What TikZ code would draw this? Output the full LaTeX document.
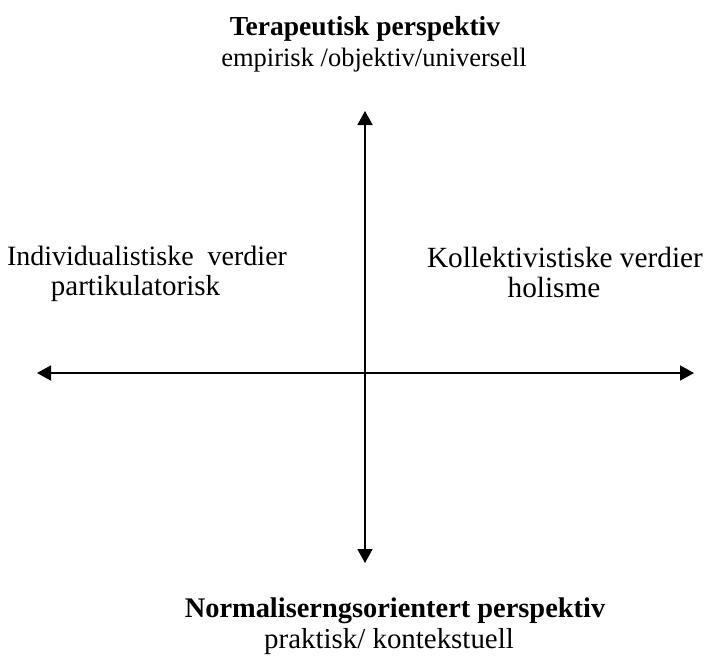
\documentclass[tikz,border=0pt]{standalone}
\usepackage{fontspec}
\setmainfont{Liberation Serif}
\usetikzlibrary{arrows.meta}
\begin{document}
\begin{tikzpicture}[x=1pt,y=-1pt,
  lbl/.style={inner sep=0pt,anchor=base,font=\fontsize{#1}{#1}\selectfont},
  lbl/.default=27.5,
  ttl/.style={inner sep=0pt,anchor=base,font=\fontsize{#1}{#1}\selectfont\bfseries},
  ttl/.default=27.5,
  axis/.style={line width=1.6pt,{Triangle[length=14pt,width=15pt]}-{Triangle[length=14pt,width=15pt]}}]
  \useasboundingbox (0,0) rectangle (706,657);
  % axis end points
  \coordinate (N) at (365,111);
  \coordinate (S) at (365,563);
  \coordinate (W) at (37,373);
  \coordinate (E) at (694,373);
  \draw[axis] (N) -- (S);
  \draw[axis] (W) -- (E);
  % top pole
  \node[ttl] (topTitle) at (365,35) {Terapeutisk perspektiv};
  \node[lbl=26.5] (topSub) at (374,66) {empirisk /objektiv/universell};
  % left pole
  \node[lbl=28] (leftTitle) at (147,265) {Individualistiske\ \ verdier};
  \node[lbl=29] (leftSub) at (135.5,295) {partikulatorisk};
  % right pole
  \node[lbl=29.3] (rightTitle) at (565,267) {Kollektivistiske verdier};
  \node[lbl=29.3] (rightSub) at (554,297) {holisme};
  % bottom pole
  \node[ttl=28.4] (botTitle) at (395,617) {Normaliserngsorientert perspektiv};
  \node[lbl=28.9] (botSub) at (389,648) {praktisk/ kontekstuell};
\end{tikzpicture}
\end{document}
